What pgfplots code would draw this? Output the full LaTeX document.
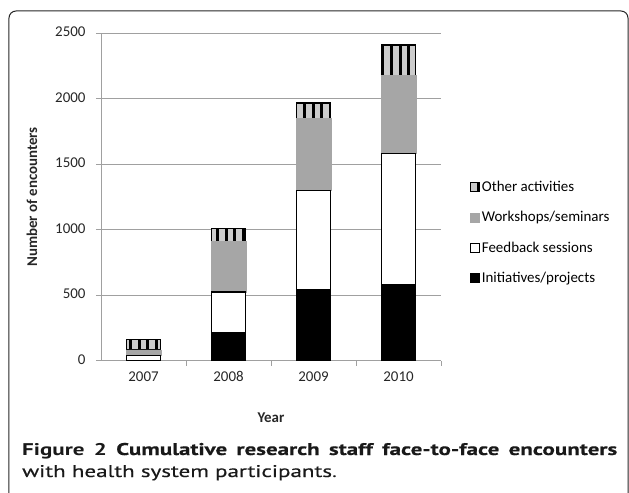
\documentclass[border=0pt]{standalone}
\usepackage{fontspec}
\setmainfont{Carlito}
\newfontfamily\capfont{PT Sans}
\newfontfamily\capsemi[FakeBold=0.4]{PT Sans}
\usepackage{pgfplots}
\pgfplotsset{compat=1.18}
\usetikzlibrary{patterns.meta}
\definecolor{wsgray}{HTML}{A6A6A6}
\definecolor{axgray}{HTML}{A0A0A0}
\begin{document}
\begin{tikzpicture}
\useasboundingbox (-101bp,-132.3bp) rectangle (528bp,360.7bp);
\draw[line width=1bp, black!85, rounded corners=7bp] (-92bp,-140bp) rectangle (527bp,349.7bp);
\begin{axis}[
  at={(0,0)}, anchor=south west,
  scale only axis, width=340bp, height=327.4bp,
  ybar stacked, bar width=34.7bp,
  ymin=0, ymax=2500, ytick={0,500,1000,1500,2000,2500},
  /pgf/number format/.cd, 1000 sep={}, assume math mode=true, /pgfplots/.cd,
  xmin=-0.5, xmax=3.5, xtick={0,1,2,3},
  xticklabels={2007,2008,2009,2010},
  typeset ticklabels with strut,
  axis x line*=bottom, axis y line*=left,
  axis line style={axgray, line width=0.8bp, -},
  ymajorgrids, grid style={axgray, line width=0.8bp},
  tick align=outside, major tick length=5bp,
  y tick style={axgray, line width=0.8bp},
  x tick style={draw=none},
  extra x ticks={0.5,1.5,2.5,3.5}, extra x tick labels={},
  extra x tick style={grid=none, x tick style={draw=axgray, line width=0.8bp}},
  tick label style={font=\fontsize{15}{17}\selectfont, black!85},
  yticklabel style={xshift=-7bp},
  xlabel={\bfseries Year}, ylabel={\bfseries Number of encounters},
  label style={font=\fontsize{15}{17}\selectfont, black!85},
  xlabel style={at={(axis description cs:0.5,-0.174)}, anchor=center},
  ylabel style={at={(axis description cs:-0.203,0.5)}, anchor=center},
  legend style={draw=none, fill=none, at={(axis description cs:1.075,0.561)}, anchor=north west,
    row sep=14.5bp, font=\fontsize{15}{17}\selectfont, cells={anchor=west}},
  reverse legend,
  legend image code/.code={\draw[#1] (0bp,-4.5bp) rectangle (9bp,4.5bp);},
]
\addplot[fill=black, draw=black, line width=1bp] coordinates {(0,0) (1,216) (2,540) (3,578)};
\addlegendentry{Initiatives/projects}
\addplot[fill=white, draw=black, line width=1.2bp] coordinates {(0,41) (1,308) (2,761) (3,1003)};
\addlegendentry{Feedback sessions}
\addplot[fill=wsgray, draw=wsgray, line width=0.5bp] coordinates {(0,41) (1,385) (2,547) (3,596)};
\addlegendentry{Workshops/seminars}
\addplot[fill=white!60!gray, draw=black, line width=1.2bp,
  postaction={pattern={Lines[angle=90,distance=8.7bp,line width=3bp]}, pattern color=black}]
  coordinates {(0,81) (1,99) (2,120) (3,234)};
\addlegendentry{Other activities}
\end{axis}
\node[anchor=base west, inner sep=0, black!90] at (-79bp,-94.3bp)
  {\scalebox{1.36}[1]{\makebox[437.5bp][s]{\fontsize{17}{20}\selectfont\capfont\bfseries Figure 2 \capsemi Cumulative research staff face-to-face encounters}}};
\node[anchor=base west, inner sep=0, black!90] at (-79bp,-116.3bp)
  {\scalebox{1.36}[1]{\fontsize{17}{20}\selectfont\capsemi with health system participants\capfont .}};
\end{tikzpicture}
\end{document}
